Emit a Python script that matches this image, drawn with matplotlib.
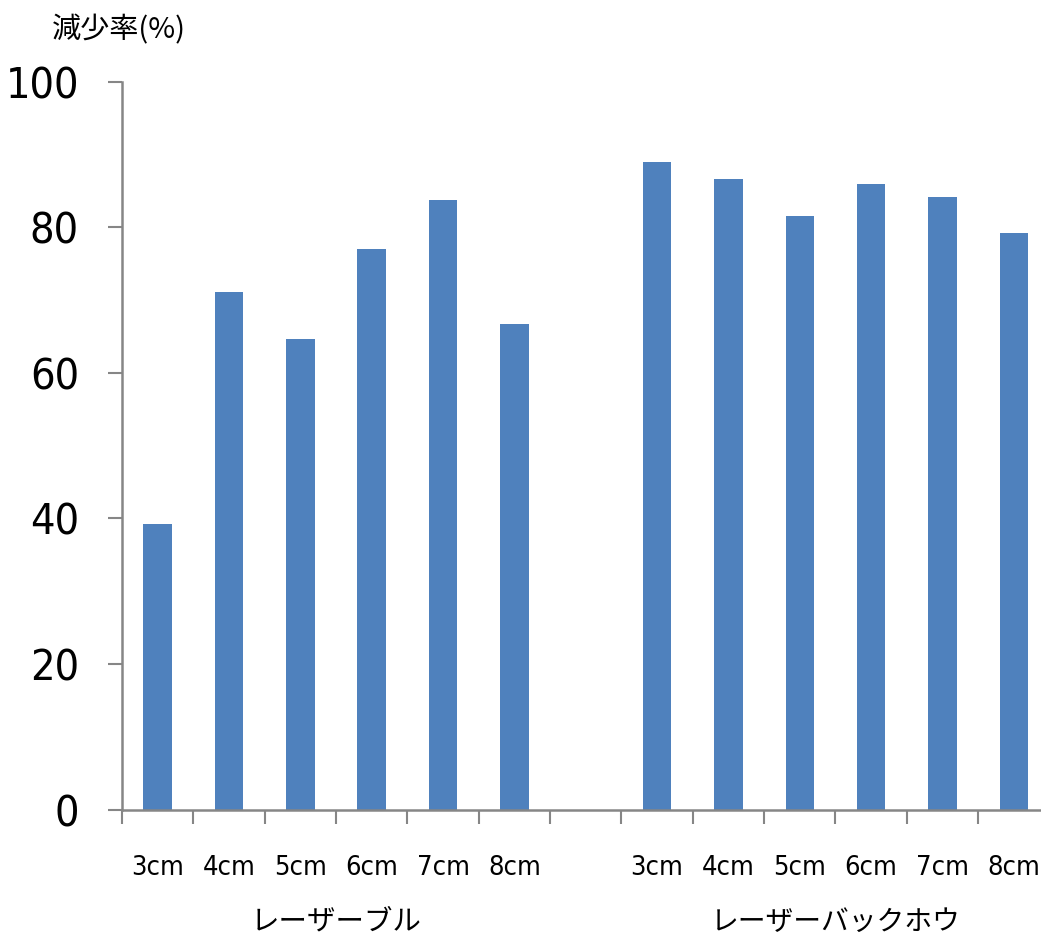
# reduction rate bar chart, laser blade vs laser backhoe

import numpy as np
import matplotlib.pyplot as plt

plt.rcParams['font.family'] = ['DejaVu Sans', 'Noto Sans CJK JP']
plt.rcParams['font.stretch'] = 'condensed'

# data

depths = ['3cm', '4cm', '5cm', '6cm', '7cm', '8cm']
groups = ['レーザーブル', 'レーザーバックホウ']
blade_rates = [39.2, 71.1, 64.6, 77.0, 83.8, 66.7]
backhoe_rates = [88.9, 86.6, 81.6, 86.0, 84.1, 79.2]

bar_colour = '#4F81BD'
axis_colour = '#868686'

# positions: one empty slot between the two groups

n = len(depths)
x1 = np.arange(n)
x2 = np.arange(n) + n + 1
centres = np.concatenate([x1, x2])

fig = plt.figure(figsize = (10.41, 9.43), dpi = 100)
ax = fig.add_axes([0.1172, 0.1414, 0.891, 0.772])

ax.bar(x1, blade_rates, width = 0.4, color = bar_colour)
ax.bar(x2, backhoe_rates, width = 0.4, color = bar_colour)

ax.set_xlim(-0.5, 2 * n + 0.5)
ax.set_ylim(0, 100)

for side in ['top', 'right']:
    ax.spines[side].set_visible(False)
for side in ['left', 'bottom']:
    ax.spines[side].set_color(axis_colour)
    ax.spines[side].set_linewidth(1.8)

ax.set_yticks(np.arange(0, 101, 20))
ax.tick_params(axis = 'y', direction = 'out', length = 10, width = 1.5, color = axis_colour, pad = 21, labelsize = 31)

# slot boundaries carry the tick marks, bar centres carry the labels
ax.set_xticks(np.arange(-0.5, 2 * n + 1, 1))
ax.set_xticklabels([])
ax.set_xticks(centres, minor = True)
ax.set_xticklabels(depths + depths, minor = True)
ax.tick_params(axis = 'x', which = 'major', direction = 'out', length = 10, width = 1.5, color = axis_colour)
ax.tick_params(axis = 'x', which = 'minor', length = 0, pad = 33, labelsize = 19.5)

ax.text(np.mean(x1), -0.154, groups[0], transform = ax.get_xaxis_transform(), ha = 'center', va = 'center', fontsize = 20.5, family = ['Noto Sans CJK JP', 'DejaVu Sans'])
ax.text(np.mean(x2), -0.154, groups[1], transform = ax.get_xaxis_transform(), ha = 'center', va = 'center', fontsize = 20, family = ['Noto Sans CJK JP', 'DejaVu Sans'])

fig.text(52 / 1041, 1 - 30 / 943, '減少率(%)', ha = 'left', va = 'center', fontsize = 21, family = ['Noto Sans CJK JP', 'DejaVu Sans'])

fig.savefig('out.png', dpi = 100)
